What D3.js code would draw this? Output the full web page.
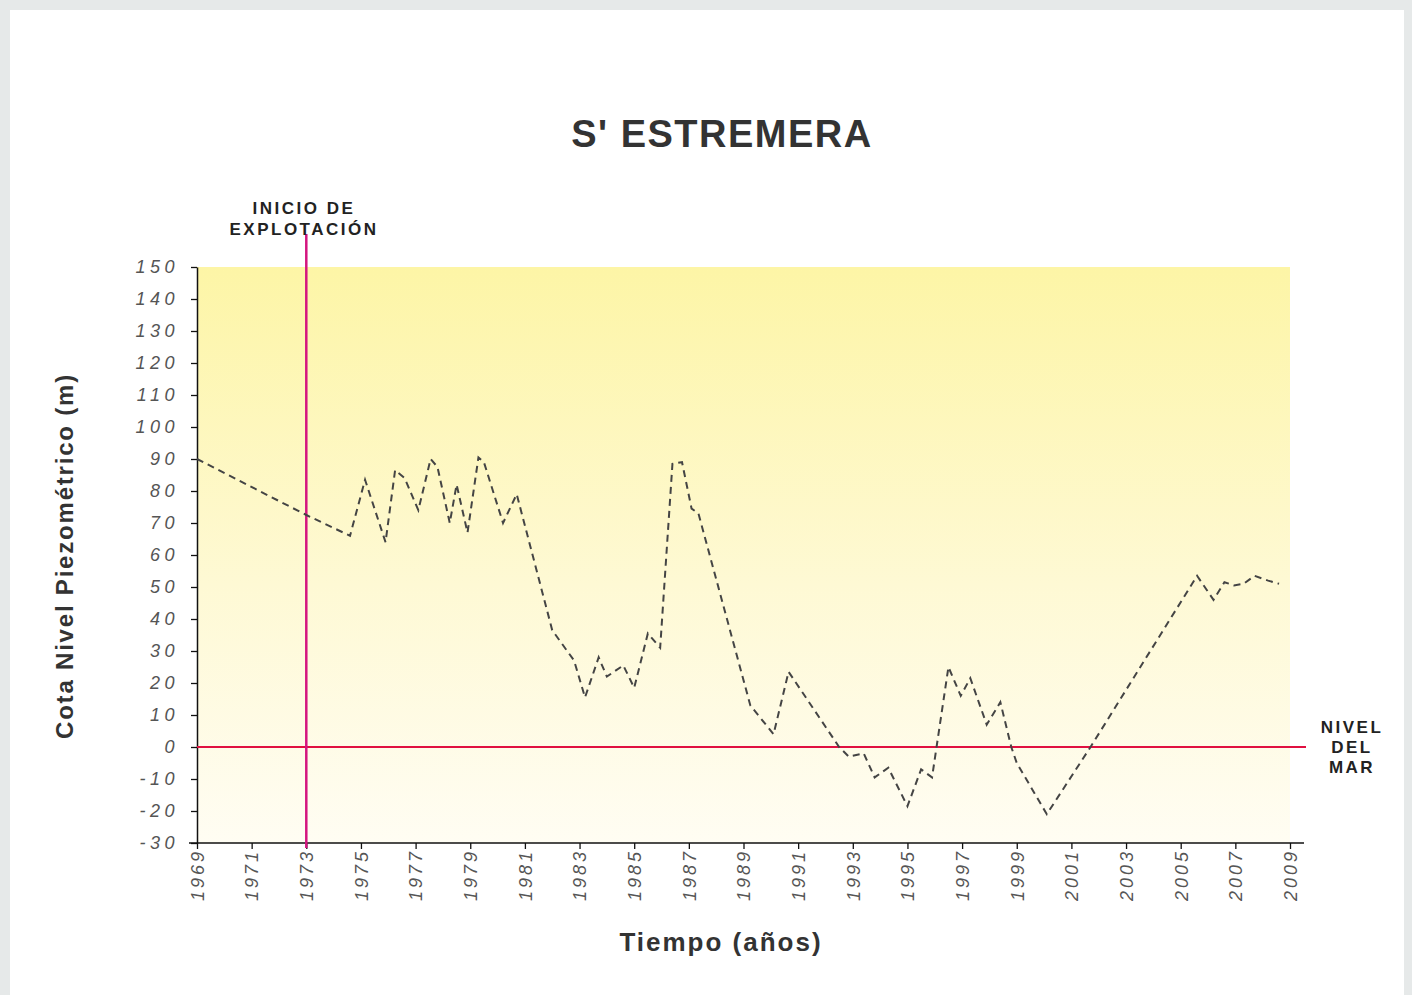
<!DOCTYPE html>
<html>
<head>
<meta charset="utf-8">
<script src="https://cdn.jsdelivr.net/npm/d3@7"></script>
<style>
  body { margin: 0; background: #e6e9e9; }
  svg { display: block; font-family: "Liberation Sans", Arial, sans-serif; }
</style>
</head>
<body>
<div id="chart"></div>
<script>
const width = 1412, height = 995;

// serie piezométrica (año decimal, cota en m)
const years = [1969, 1973, 1974.6, 1975.15, 1975.9, 1976.25, 1976.6, 1977.1, 1977.55, 1977.8,
  1978.25, 1978.5, 1978.9, 1979.3, 1979.5, 1980.2, 1980.7, 1982.0, 1982.8, 1983.2,
  1983.7, 1984.0, 1984.6, 1985.0, 1985.5, 1985.95, 1986.4, 1986.75, 1987.1, 1987.35,
  1989.25, 1990.1, 1990.65, 1992.5, 1992.85, 1993.4, 1993.8, 1994.3, 1995.0, 1995.5,
  1995.9, 1996.5, 1996.95, 1997.3, 1997.9, 1998.4, 1998.8, 1999.0, 2000.1, 2001.7,
  2005.6, 2006.2, 2006.6, 2006.95, 2007.3, 2007.7, 2008.2, 2008.6];
const levels = [90, 72.5, 66, 83.5, 64, 86.5, 84, 74, 90, 87.5,
  70, 82, 67, 90.5, 89, 70, 79, 36.5, 27, 15.5,
  28, 22, 25.5, 18.5, 35.5, 31, 88.5, 89, 74.5, 73,
  13, 4, 23.5, 0, -3, -2, -9.5, -6.5, -18.5, -7,
  -9.5, 25, 16, 21.5, 7, 14, 0, -5, -21, 0,
  53.5, 46, 51.5, 50.5, 51, 53.5, 52, 51];

const xTicks = d3.range(1969, 2010, 2);
const yTicks = d3.range(-30, 151, 10);

const margin = { left: 197, right: 1290, top: 267, bottom: 843 };

const x = d3.scaleLinear().domain([1969, 2009]).range([margin.left, margin.right]);
const y = d3.scaleLinear().domain([-30, 150]).range([margin.bottom, margin.top]);

const svg = d3.select("#chart").append("svg")
    .attr("width", width)
    .attr("height", height);

svg.append("rect")
    .attr("x", 10).attr("y", 10)
    .attr("width", width - 18).attr("height", height - 10)
    .attr("fill", "#ffffff");

const defs = svg.append("defs");
const grad = defs.append("linearGradient")
    .attr("id", "bg").attr("x1", 0).attr("y1", 0).attr("x2", 0).attr("y2", 1);
grad.append("stop").attr("offset", "0%").attr("stop-color", "#fdf5a6");
grad.append("stop").attr("offset", "55%").attr("stop-color", "#fef9d4");
grad.append("stop").attr("offset", "100%").attr("stop-color", "#fffdf3");

svg.append("rect")
    .attr("x", x(1969)).attr("y", y(150))
    .attr("width", x(2009) - x(1969)).attr("height", y(-30) - y(150))
    .attr("fill", "url(#bg)");

// título
svg.append("text")
    .attr("x", 722).attr("y", 147)
    .attr("text-anchor", "middle")
    .attr("font-size", 38).attr("font-weight", "bold")
    .attr("letter-spacing", 1.5)
    .attr("fill", "#333")
    .text("S' ESTREMERA");

const fmtY = d => String(d); // guion simple, como en el original

// eje Y
const yAxis = svg.append("g")
    .attr("transform", `translate(${x(1969)},0)`)
    .call(d3.axisLeft(y).tickValues(yTicks).tickFormat(fmtY).tickSize(6).tickSizeOuter(0).tickPadding(12));
yAxis.select(".domain").attr("stroke", "#111").attr("stroke-width", 1.5);
yAxis.selectAll(".tick line").attr("stroke", "#111").attr("stroke-width", 1.3);
yAxis.selectAll(".tick text")
    .attr("font-size", 18).attr("font-style", "italic").attr("fill", "#555")
    .attr("letter-spacing", 4.5);

// eje X
const xAxis = svg.append("g")
    .attr("transform", `translate(0,${y(-30)})`)
    .call(d3.axisBottom(x).tickValues(xTicks).tickFormat(d3.format("d")).tickSize(6).tickSizeOuter(0));
xAxis.select(".domain").attr("d", `M${x(1969) - 8},0H${x(2009) + 14}`)
    .attr("stroke", "#111").attr("stroke-width", 1.5);
xAxis.selectAll(".tick line").attr("stroke", "#111").attr("stroke-width", 1.3);
xAxis.selectAll(".tick text")
    .attr("font-size", 18).attr("font-style", "italic").attr("fill", "#555")
    .attr("letter-spacing", 3)
    .attr("transform", "rotate(-90)")
    .attr("text-anchor", "end")
    .attr("x", -6).attr("y", 0).attr("dy", "0.35em");

// nivel del mar y marca de inicio de explotación
svg.append("line")
    .attr("x1", x(1969)).attr("x2", x(2009) + 16)
    .attr("y1", y(0)).attr("y2", y(0))
    .attr("stroke", "#e01040").attr("stroke-width", 2);

svg.append("line")
    .attr("x1", x(1973)).attr("x2", x(1973))
    .attr("y1", 234).attr("y2", y(-30) + 5)
    .attr("stroke", "#d4157f").attr("stroke-width", 2.5);

// serie
const line = d3.line()
    .x((d, i) => x(years[i]))
    .y(d => y(d));

svg.append("path")
    .datum(levels)
    .attr("d", line)
    .attr("fill", "none")
    .attr("stroke", "#444")
    .attr("stroke-width", 2)
    .attr("stroke-dasharray", "7,5");

// anotaciones
const ann = svg.append("g")
    .attr("font-size", 17).attr("font-weight", "bold").attr("fill", "#222")
    .attr("letter-spacing", 2.5)
    .attr("text-anchor", "middle");
ann.append("text").attr("x", 304).attr("y", 214).text("INICIO DE");
ann.append("text").attr("x", 304).attr("y", 235).text("EXPLOTACIÓN");
ann.append("text").attr("x", 1352).attr("y", 733).text("NIVEL");
ann.append("text").attr("x", 1352).attr("y", 753).text("DEL");
ann.append("text").attr("x", 1352).attr("y", 773).text("MAR");

// rótulos de ejes
svg.append("text")
    .attr("transform", `translate(73,556) rotate(-90)`)
    .attr("text-anchor", "middle")
    .attr("font-size", 24).attr("font-weight", "bold").attr("fill", "#333")
    .attr("letter-spacing", 1.8)
    .text("Cota Nivel Piezométrico (m)");

svg.append("text")
    .attr("x", 721).attr("y", 951)
    .attr("text-anchor", "middle")
    .attr("font-size", 26).attr("font-weight", "bold").attr("fill", "#333")
    .attr("letter-spacing", 2)
    .text("Tiempo (años)");
</script>
</body>
</html>
